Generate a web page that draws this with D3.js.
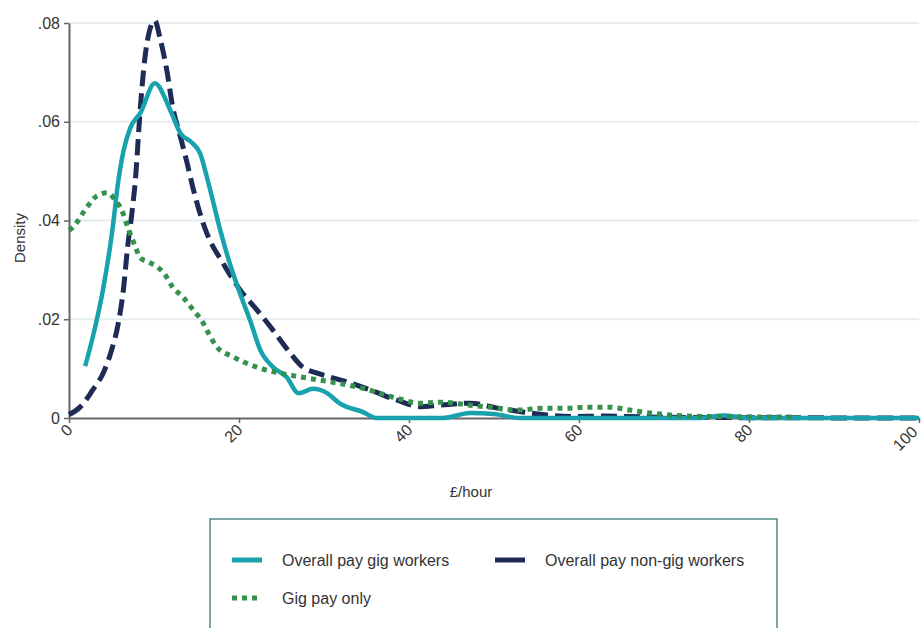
<!DOCTYPE html>
<html><head><meta charset="utf-8">
<script src="https://cdn.jsdelivr.net/npm/d3@7"></script>
<style>body{margin:0;background:#fff;} svg{display:block;font-family:"Liberation Sans",Arial,sans-serif;}</style>
</head><body>
<svg id="c" width="922" height="628"></svg>
<script>
const seriesNames = ["Overall pay gig workers", "Overall pay non-gig workers", "Gig pay only"];
const xTicks = [0, 20, 40, 60, 80, 100];
const yTicks = [0, 0.02, 0.04, 0.06, 0.08];
const yTickLabels = ["0", ".02", ".04", ".06", ".08"];

const gigOverall = [[1.9,0.0105],[2.8,0.0164],[4,0.026],[5.1,0.038],[5.8,0.048],[6.4,0.054],[7.2,0.0587],[8.4,0.0618],[10.1,0.0678],[11.9,0.0624],[13.1,0.0577],[14.5,0.0557],[15.4,0.0537],[16.4,0.0476],[17.8,0.038],[18.9,0.0314],[20.1,0.0253],[21.3,0.0198],[22.5,0.0138],[24,0.0103],[25.6,0.0083],[27,0.005],[28.7,0.0059],[30.4,0.005],[31.8,0.003],[34.6,0.0012],[36.2,0],[44,0],[47.2,0.001],[50,0.0008],[53,0],[74,0],[77,0.0005],[80,0],[100,0]];
const nonGigOverall = [[0,0.0007],[1.3,0.0022],[2.8,0.0057],[4,0.009],[5,0.0137],[5.8,0.0192],[6.4,0.026],[6.9,0.0347],[7.4,0.0415],[7.8,0.048],[8.4,0.063],[8.9,0.0725],[9.5,0.0786],[10.1,0.0805],[10.7,0.077],[11.5,0.0705],[12.2,0.063],[13.1,0.057],[13.9,0.0516],[14.6,0.0465],[15.4,0.0415],[16.2,0.0375],[18.1,0.0314],[20.1,0.026],[22.1,0.0219],[24,0.0178],[26,0.0132],[27.5,0.0103],[29.2,0.0091],[30.7,0.0083],[32.7,0.0073],[35.4,0.0057],[38.6,0.0036],[41.3,0.0023],[43.6,0.0026],[47.2,0.003],[50.4,0.002],[53.4,0.0012],[56.2,0.0006],[59,0.0003],[63,0.0004],[68,0.0002],[75,0.0001],[100,0]];
const gigOnly = [[0,0.038],[0.5,0.0387],[2.1,0.0427],[3.3,0.045],[4.5,0.0456],[5.4,0.0442],[6.2,0.0421],[6.9,0.0387],[7.8,0.0347],[8.4,0.0324],[9.3,0.0316],[10.4,0.0306],[11.3,0.029],[12.2,0.0265],[13.4,0.0245],[14.6,0.0219],[15.8,0.0192],[16.4,0.0172],[17.4,0.0144],[19.3,0.0124],[22.1,0.0103],[24.8,0.0091],[28,0.0081],[31.5,0.0071],[34.6,0.006],[38.6,0.004],[41.3,0.003],[43.6,0.0032],[47.2,0.0026],[50.4,0.002],[52.7,0.0016],[55.8,0.002],[59,0.002],[60.9,0.0022],[63.4,0.0022],[66,0.0016],[68.4,0.001],[70.7,0.0006],[75.4,0.0003],[85,0.0002]];

const colors = {teal:"#17a2ad", navy:"#1d2b56", green:"#35924d"};
const svg = d3.select("#c");
const x = d3.scaleLinear().domain([0,100]).range([69,919]);
const y = d3.scaleLinear().domain([0,0.08]).range([418,23]);

// gridlines
svg.append("g").selectAll("line").data(yTicks.filter(d=>d>0)).join("line")
  .attr("x1",70).attr("x2",919).attr("y1",d=>y(d)).attr("y2",d=>y(d))
  .attr("stroke","#e5edf1").attr("stroke-width",2);

// y axis
const yAxis = d3.axisLeft(y).tickValues(yTicks).tickFormat((d,i)=>yTickLabels[i]).tickSize(5).tickSizeOuter(0).tickPadding(4);
const gy = svg.append("g").attr("transform","translate(69,0)").call(yAxis);
gy.select(".domain").attr("stroke","#666").attr("stroke-width",2);
gy.selectAll(".tick line").attr("stroke","#666").attr("stroke-width",1.5);
gy.selectAll(".tick text").attr("font-size",16).attr("fill","#333").attr("font-family","Liberation Sans, Arial, sans-serif");

// x axis
const xAxis = d3.axisBottom(x).tickValues(xTicks).tickFormat(d3.format("d")).tickSize(5).tickSizeOuter(0);
const gx = svg.append("g").attr("transform","translate(0,418)").call(xAxis);
gx.select(".domain").attr("stroke","#666").attr("stroke-width",2);
gx.selectAll(".tick line").attr("stroke","#666").attr("stroke-width",1.5);
gx.selectAll(".tick text").attr("font-size",16).attr("fill","#333").attr("font-family","Liberation Sans, Arial, sans-serif")
  .attr("text-anchor","end").attr("dy","0.35em").attr("y",0)
  .attr("transform",d=> d===100 ? "translate(-5,11) rotate(-45)" : "translate(0,9) rotate(-45)");

const line = d3.line().x(d=>x(d[0])).y(d=>y(d[1])).curve(d3.curveMonotoneX);

svg.append("path").datum(nonGigOverall).attr("d",line).attr("fill","none")
  .attr("stroke",colors.navy).attr("stroke-width",5).attr("stroke-dasharray","16,7");
svg.append("path").datum(gigOverall).attr("d",line).attr("fill","none")
  .attr("stroke",colors.teal).attr("stroke-width",4.5).attr("stroke-linejoin","round");
svg.append("path").datum(gigOnly).attr("d",line).attr("fill","none")
  .attr("stroke",colors.green).attr("stroke-width",5).attr("stroke-dasharray","5,5");

// axis titles
svg.append("text").attr("transform","translate(25,238) rotate(-90)").attr("text-anchor","middle")
  .attr("font-size",15).attr("fill","#333").text("Density");
svg.append("text").attr("x",471).attr("y",497).attr("text-anchor","middle")
  .attr("font-size",15).attr("fill","#333").text("£/hour");

// legend
svg.append("rect").attr("x",210).attr("y",519).attr("width",567).attr("height",130)
  .attr("fill","none").attr("stroke","#4e8a85").attr("stroke-width",1.5);
const legendItems = [
  {name:seriesNames[0], color:colors.teal, dash:null, lx:232, ly:560},
  {name:seriesNames[1], color:colors.navy, dash:null, lx:495, ly:560},
  {name:seriesNames[2], color:colors.green, dash:"5,5", lx:232, ly:598}
];
const lg = svg.append("g").selectAll("g").data(legendItems).join("g");
lg.append("line").attr("x1",d=>d.lx).attr("x2",d=>d.lx+30).attr("y1",d=>d.ly).attr("y2",d=>d.ly)
  .attr("stroke",d=>d.color).attr("stroke-width",5).attr("stroke-dasharray",d=>d.dash);
lg.append("text").attr("x",d=>d.lx+50).attr("y",d=>d.ly+6).attr("font-size",16).attr("fill","#333").text(d=>d.name);
</script>
</body></html>
